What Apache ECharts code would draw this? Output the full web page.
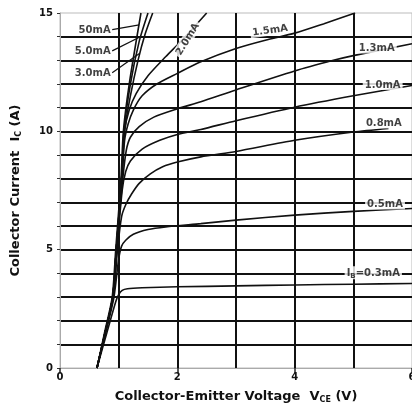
<!DOCTYPE html>
<html>
<head>
<meta charset="utf-8">
<script src="https://cdn.jsdelivr.net/npm/echarts@6/dist/echarts.min.js"></script>
<style>
html,body{margin:0;padding:0;background:#fff;overflow:hidden;width:412px;height:413px;}
#c{width:412px;height:413px;position:absolute;left:0;top:0;}
</style>
</head>
<body>
<div id="c"></div>
<script>
// ---- data (Vce in V, Ic in A) ----
const xTickLabels = ['0','2','4','6'];
const yTickLabels = ['0','5','10','15'];
const curveNames = ['0.3mA','0.5mA','0.8mA','1.0mA','1.3mA','1.5mA','2.0mA','3.0mA','5.0mA','50mA'];

const ib03 = [[0.63,0],[0.8,1.5],[0.95,2.8],[1.0,3.1],[1.06,3.28],[1.15,3.35],[1.4,3.39],[2,3.43],[3,3.47],[4,3.51],[5,3.54],[6,3.57]];
const ib05 = [[0.63,0],[0.78,1.5],[0.92,3],[1.0,4.6],[1.05,5.15],[1.12,5.4],[1.25,5.65],[1.5,5.85],[1.8,5.96],[2.4,6.1],[3,6.25],[4,6.46],[5,6.62],[6,6.74]];
const ib08 = [[0.63,0],[0.77,1.5],[0.91,3],[0.98,5],[1.05,6.4],[1.12,6.9],[1.22,7.35],[1.35,7.8],[1.54,8.2],[1.75,8.5],[2,8.7],[2.4,8.92],[3,9.15],[4,9.62],[5,9.97],[5.6,10.12]];
const ib10 = [[0.63,0],[0.77,1.5],[0.9,3],[0.97,5],[1.06,7.5],[1.12,8.3],[1.2,8.75],[1.4,9.25],[1.7,9.62],[2,9.87],[2.4,10.08],[3,10.45],[4,11.02],[5,11.5],[6,11.94]];
const ib13 = [[0.63,0],[0.77,1.5],[0.9,3],[0.96,5],[1.07,8],[1.13,9.2],[1.2,9.75],[1.35,10.2],[1.6,10.6],[2,10.95],[2.4,11.25],[3,11.75],[4,12.55],[4.66,13.0],[5,13.2],[6,13.7]];
const ib15 = [[0.63,0],[0.77,1.5],[0.9,3],[0.96,5],[1.06,8],[1.1,9.6],[1.16,10.3],[1.25,10.9],[1.4,11.5],[1.65,12.0],[2,12.45],[2.39,12.93],[3,13.5],[3.5,13.85],[4,14.15],[4.5,14.55],[5.03,15]];
const ib20 = [[0.63,0],[0.77,1.5],[0.9,3],[0.96,5],[1.05,8],[1.1,10],[1.18,10.9],[1.3,11.6],[1.5,12.35],[1.8,13.15],[2.1,13.9],[2.5,15]];
const ib30 = [[0.63,0],[0.77,1.5],[0.9,3],[0.96,5],[1.05,8],[1.1,10],[1.2,11.5],[1.33,13],[1.45,14.1],[1.58,15]];
const ib50 = [[0.63,0],[0.77,1.5],[0.9,3],[0.96,5],[1.05,8],[1.09,10],[1.2,12],[1.35,13.8],[1.5,15]];
const ib500 = [[0.63,0],[0.76,1.5],[0.89,3],[0.95,5],[1.04,8],[1.08,10],[1.18,12],[1.38,15]];

// annotation anchors (text, x, y, rotation)
const curveLabels = [
  ['{t|I}{s|B}{t|=0.3mA}', 5.34, 4.02, 0],
  ['{t|0.5mA}', 5.54, 6.93, 0],
  ['{t|0.8mA}', 5.52, 10.35, 0],
  ['{t|1.0mA}', 5.5, 11.98, 0],
  ['{t|1.3mA}', 5.4, 13.52, 0],
  ['{t|1.5mA}', 3.58, 14.28, 8],
  ['{t|2.0mA}', 2.17, 13.9, 58]
];
const leftLabels = [
  ['50mA', 0.88, 14.28],
  ['5.0mA', 0.88, 13.38],
  ['3.0mA', 0.88, 12.45]
];
const leaders = [
  [[0.89,14.3],[1.35,14.5]],
  [[0.89,13.4],[1.37,14.0]],
  [[0.89,12.48],[1.36,13.3]]
];

const FF = '"DejaVu Sans",Verdana,sans-serif';
const curves = [ib03,ib05,ib08,ib10,ib13,ib15,ib20,ib30,ib50,ib500];

const series = [];
curves.forEach((d,i)=>{
  series.push({type:'line', name:curveNames[i], data:d, showSymbol:false, smooth:0.25,
    lineStyle:{color:'#111', width:1.6}, z:3, silent:true, animation:false});
});
leaders.forEach(l=>{
  series.push({type:'line', data:l, showSymbol:false, lineStyle:{color:'#111', width:1.2}, z:3, animation:false});
});
curveLabels.forEach(r=>{
  series.push({type:'scatter', symbolSize:0, z:10, animation:false,
    data:[{value:[r[1],r[2]], txt:r[0]}],
    label:{show:true, position:'inside', rotate:r[3], formatter:p=>p.data.txt,
      backgroundColor:'#fff', padding:[1,2,0,2],
      rich:{t:{fontFamily:FF, fontSize:10, fontWeight:'bold', color:'#111'},
            s:{fontFamily:FF, fontSize:7, fontWeight:'bold', color:'#111', padding:[5,0,0,0]}}}
  });
});
series.push({type:'scatter', symbolSize:0, z:10, animation:false,
  data: leftLabels.map(r=>({value:[r[1],r[2]], txt:r[0]})),
  label:{show:true, position:'left', distance:0, formatter:p=>p.data.txt,
    fontFamily:FF, fontSize:10, fontWeight:'bold', color:'#111', backgroundColor:'#fff', padding:[0,1,0,1]}
});

const chart = echarts.init(document.getElementById('c'), null, {renderer:'canvas', width:412, height:413});
chart.setOption({
  animation:false,
  backgroundColor:'#fff',
  grid:{left:60, right:0, top:13, bottom:45, show:true, borderColor:'#bbb', borderWidth:1,
        containLabel:false, outerBoundsMode:'none'},
  xAxis:{type:'value', min:0, max:6, interval:2,
    name:'{a|Collector-Emitter Voltage  V}{s|CE}{a| (V)}', nameLocation:'middle', nameGap:22,
    nameTextStyle:{rich:{a:{fontFamily:FF, fontSize:13, fontWeight:'bold', color:'#111'},
                         s:{fontFamily:FF, fontSize:8, fontWeight:'bold', color:'#111', padding:[6,0,0,0]}}},
    axisLine:{show:true, lineStyle:{color:'#aaa', width:1}},
    axisTick:{show:true, length:5, lineStyle:{color:'#222', width:1.5}},
    axisLabel:{fontFamily:FF, fontSize:10, fontWeight:'bold', color:'#111', margin:4,
      formatter:v=>xTickLabels[Math.round(v/2)]},
    splitLine:{show:true, showMinLine:false, showMaxLine:false, lineStyle:{color:'#111', width:2}},
    minorTick:{show:false, splitNumber:2},
    minorSplitLine:{show:true, lineStyle:{color:'#111', width:2}}
  },
  yAxis:{type:'value', min:0, max:15, interval:5,
    name:'{a|Collector Current  I}{s|C}{a| (A)}', nameLocation:'middle', nameGap:37,
    nameTextStyle:{rich:{a:{fontFamily:FF, fontSize:13, fontWeight:'bold', color:'#111'},
                         s:{fontFamily:FF, fontSize:8, fontWeight:'bold', color:'#111', padding:[6,0,0,0]}}},
    axisLine:{show:true, lineStyle:{color:'#aaa', width:1}},
    axisTick:{show:true, length:3, lineStyle:{color:'#333'}},
    minorTick:{show:true, splitNumber:5, length:3, lineStyle:{color:'#333'}},
    axisLabel:{fontFamily:FF, fontSize:10, fontWeight:'bold', color:'#111', margin:7,
      formatter:v=>yTickLabels[Math.round(v/5)]},
    splitLine:{show:true, showMinLine:false, showMaxLine:false, lineStyle:{color:'#111', width:2}},
    minorSplitLine:{show:true, lineStyle:{color:'#111', width:2}}
  },
  series:series
});
</script>
</body>
</html>
